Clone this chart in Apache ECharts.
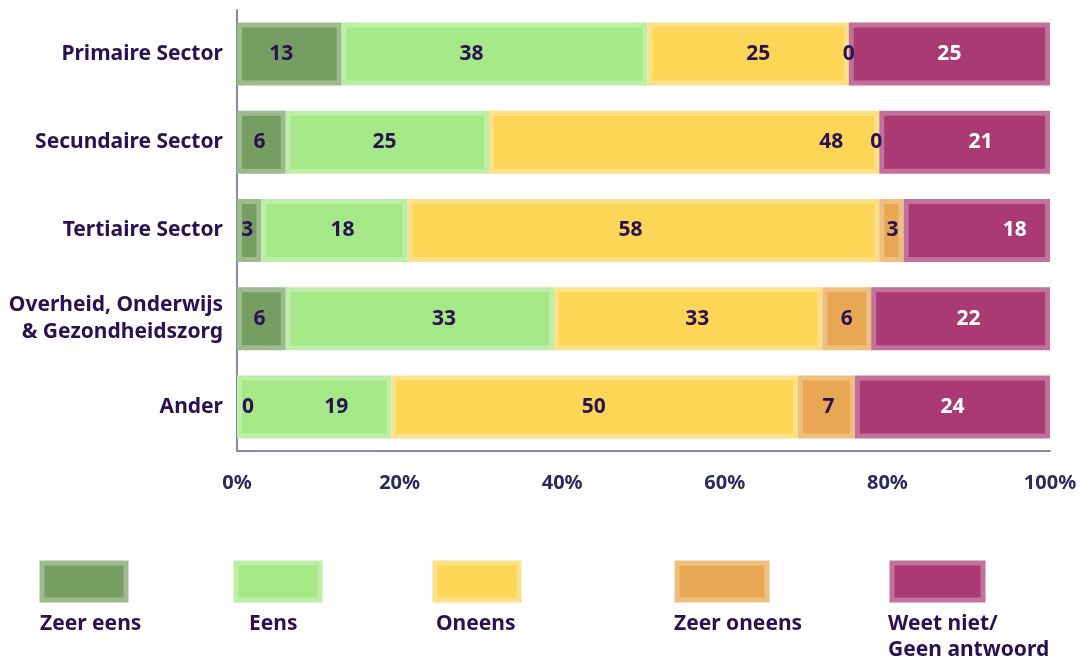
<!DOCTYPE html>
<html>
<head>
<meta charset="utf-8">
<script src="https://cdn.jsdelivr.net/npm/echarts@6/dist/echarts.min.js"></script>
<style>
  html, body { margin: 0; padding: 0; background: #fff; }
  #chart { width: 1084px; height: 660px; }
</style>
</head>
<body>
<div id="chart"></div>
<script>
// categorieën (van boven naar onder)
var categories = ['Primaire Sector', 'Secundaire Sector', 'Tertiaire Sector', 'Overheid, Onderwijs\n& Gezondheidszorg', 'Ander'];
var seriesNames = ['Zeer eens', 'Eens', 'Oneens', 'Zeer oneens', 'Weet niet/Geen antwoord'];

// waarden per antwoord (%)
var zeerEens   = [13, 6, 3, 6, 0];
var eens       = [38, 25, 18, 33, 19];
var oneens     = [25, 48, 58, 33, 50];
var zeerOneens = [0, 0, 3, 6, 7];
var weetNiet   = [25, 21, 18, 22, 24];

var xTicks = [0, 20, 40, 60, 80, 100];

// opmaak
var fills   = ['#769e63', '#a5e887', '#fdd658', '#e8a853', '#a93a73'];
var borders = ['#9dbb8d', '#bdeea6', '#fee088', '#efbf80', '#c2709c'];
var labelColors = ['#2a1252', '#2a1252', '#2a1252', '#2a1252', '#ffffff'];
var textColor = '#2a1252';
var axisColor = '#8c87a8';
var font = '"Noto Sans", sans-serif';
// handmatige verschuiving van de labels (px), zoals in het origineel
var labelShift = [
    [-8, -2, -2, -2, 11],
    [-23, -3, 8, 24, 22],
    [10, 147, -13, 9, -1],
    [0, -3, 1, 0, 2],
    [0, 16, 38, 8, 0]
];

var allValues = [zeerEens, eens, oneens, zeerOneens, weetNiet];

// cumulatieve posities, genormaliseerd naar 100%
function buildData(s) {
    var result = [];
    for (var i = 0; i < categories.length; i++) {
        var total = 0, before = 0;
        for (var k = 0; k < allValues.length; k++) {
            total += allValues[k][i];
            if (k < s) before += allValues[k][i];
        }
        var start = before / total * 100;
        var end = (before + allValues[s][i]) / total * 100;
        result.push([start, end, i, allValues[s][i]]);
    }
    return result;
}

function makeRender(s) {
    return function (params, api) {
        var cat = api.value(2);
        var a = api.coord([api.value(0), cat]);
        var b = api.coord([api.value(1), cat]);
        var h = 63;
        var x = a[0], w = b[0] - a[0], y = a[1] - h / 2;
        var children = [];
        if (w > 0) {
            children.push({
                type: 'rect',
                shape: { x: x, y: y, width: w, height: h },
                style: { fill: borders[s] }
            });
            if (w > 10) {
                children.push({
                    type: 'rect',
                    shape: { x: x + 5, y: y + 5, width: w - 10, height: h - 10 },
                    style: { fill: fills[s] }
                });
            }
        }
        children.push({
            type: 'text',
            z2: 100,
            x: x + w / 2 + labelShift[s][params.dataIndex],
            y: a[1],
            style: {
                text: String(api.value(3)),
                fill: labelColors[s],
                fontSize: 21,
                fontWeight: 'bold',
                fontFamily: font,
                align: 'center',
                verticalAlign: 'middle'
            }
        });
        return { type: 'group', children: children };
    };
}

var series = [];
for (var s = 0; s < seriesNames.length; s++) {
    series.push({
        name: seriesNames[s],
        type: 'custom',
        renderItem: makeRender(s),
        encode: { x: [0, 1], y: 2 },
        itemStyle: { color: fills[s] },
        data: buildData(s)
    });
}

// legenda: losse blokjes met tekst eronder
var legendLeft = [39, 233, 432, 674, 889];
var legendWidth = [89, 89, 89, 95, 96];
var legendTextLeft = [40, 249, 436, 674, 888];
var legendText = ['Zeer eens', 'Eens', 'Oneens', 'Zeer oneens', 'Weet niet/\nGeen antwoord'];

var legends = [];
var graphics = [];
for (var j = 0; j < seriesNames.length; j++) {
    legends.push({
        left: legendLeft[j] + 0.5,
        top: 560.5,
        padding: 0,
        itemWidth: legendWidth[j] - 5,
        itemHeight: 37,
        selectedMode: false,
        icon: 'rect',
        formatter: function () { return ''; },
        data: [{
            name: seriesNames[j],
            itemStyle: { color: fills[j], borderColor: borders[j], borderWidth: 5 }
        }]
    });
    graphics.push({
        type: 'text',
        left: legendTextLeft[j],
        top: 611,
        style: {
            text: legendText[j],
            fill: textColor,
            fontSize: 21,
            fontWeight: 'bold',
            fontFamily: font,
            lineHeight: 26
        }
    });
}

var myChart = echarts.init(document.getElementById('chart'));
myChart.setOption({
    backgroundColor: '#ffffff',
    animation: false,
    grid: { left: 237, right: 34, top: 10, bottom: 209 },
    legend: legends,
    graphic: graphics,
    xAxis: {
        type: 'value',
        min: xTicks[0],
        max: xTicks[xTicks.length - 1],
        interval: xTicks[1] - xTicks[0],
        axisLine: { show: true, lineStyle: { color: axisColor, width: 2 } },
        axisTick: { show: false },
        splitLine: { show: false },
        axisLabel: {
            formatter: '{value}%',
            margin: 22,
            color: '#2b2a5e',
            fontSize: 20,
            fontWeight: 'bold',
            fontFamily: font
        }
    },
    yAxis: {
        type: 'category',
        inverse: true,
        data: categories,
        axisLine: { show: true, lineStyle: { color: axisColor, width: 2 } },
        axisTick: { show: false },
        axisLabel: {
            margin: 14,
            color: textColor,
            fontSize: 21,
            fontWeight: 'bold',
            fontFamily: font,
            lineHeight: 27,
            align: 'right'
        }
    },
    series: series
});
</script>
</body>
</html>
